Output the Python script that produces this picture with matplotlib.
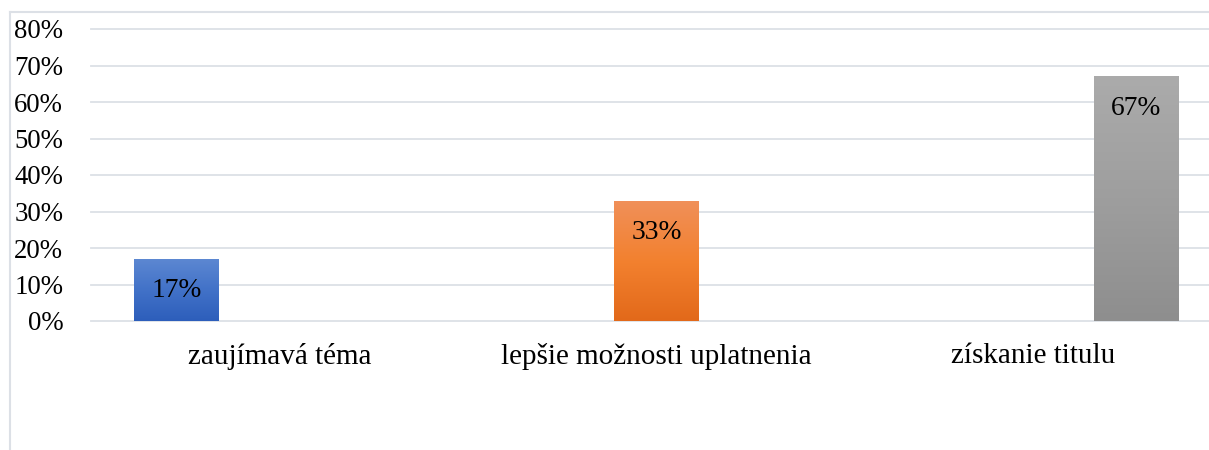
import matplotlib
matplotlib.use("Agg")
import matplotlib.pyplot as plt
import numpy as np
from matplotlib.colors import LinearSegmentedColormap
from matplotlib.lines import Line2D

categories = ["zaujímavá téma", "lepšie možnosti uplatnenia", "získanie titulu"]
values = [0.17, 0.33, 0.67]
labels = ["17%", "33%", "67%"]
series_slot = [-1, 0, 1]  # series index within the cluster
yticks = [0, 0.1, 0.2, 0.3, 0.4, 0.5, 0.6, 0.7, 0.8]
ytick_labels = ["0%", "10%", "20%", "30%", "40%", "50%", "60%", "70%", "80%"]
gradients = [
    ["#5d88d2", "#4272c8", "#2d5ebb"],
    ["#f0905a", "#f3812f", "#e2691a"],
    ["#ababab", "#9e9e9e", "#8e8e8e"],
]

W, H = 1209, 450
fig = plt.figure(figsize=(W / 100, H / 100), dpi=100)
fig.patch.set_facecolor("white")

left_px, right_px = 91, 1222
top_px, bot_px = 29, 321
ax = fig.add_axes([left_px / W, 1 - bot_px / H, (right_px - left_px) / W, (bot_px - top_px) / H])
ax.set_xlim(-0.5, 2.5)
ax.set_ylim(0, 0.8)
for s in ax.spines.values():
    s.set_visible(False)

font = "Liberation Serif"
grid_color = "#dce0e6"
for t in yticks:
    ax.axhline(t, color=grid_color, lw=1.3, zorder=0, clip_on=False)

slot = 103 / 377.0
width = 85 / 377.0
for i, (v, lab) in enumerate(zip(values, labels)):
    xc = i + series_slot[i] * slot
    x0, x1 = xc - width / 2, xc + width / 2
    cmap = LinearSegmentedColormap.from_list("g%d" % i, gradients[i])
    grad = np.linspace(0, 1, 256).reshape(-1, 1)
    bar = ax.bar(xc, v, width=width, color="none", edgecolor="none", zorder=2)[0]
    im = ax.imshow(grad, cmap=cmap, extent=[x0, x1, 0, v], origin="upper",
                   aspect="auto", zorder=2)
    im.set_clip_path(bar)
    ax.annotate(lab, xy=(xc, v), xytext=(0, -32), textcoords="offset pixels",
                ha="center", va="center", fontsize=19.8, family=font, color="black", zorder=3)

ax.set_xlim(-0.5, 2.5)
ax.set_ylim(0, 0.8)
ax.set_yticks(yticks)
ax.set_yticklabels(ytick_labels, family=font, fontsize=19.3)
ax.set_xticks(range(len(categories)))
ax.set_xticklabels(categories, family=font, fontsize=21)
ax.tick_params(axis="y", length=0, pad=20)
ax.tick_params(axis="x", length=0, pad=16)

# chart area border (top and left)
fig.add_artist(Line2D([10 / W, 1], [1 - 12 / H, 1 - 12 / H], color=grid_color, lw=1.5))
fig.add_artist(Line2D([10 / W, 10 / W], [0, 1 - 12 / H], color=grid_color, lw=1.5))

fig.savefig("out.png", dpi=100, facecolor="white")
